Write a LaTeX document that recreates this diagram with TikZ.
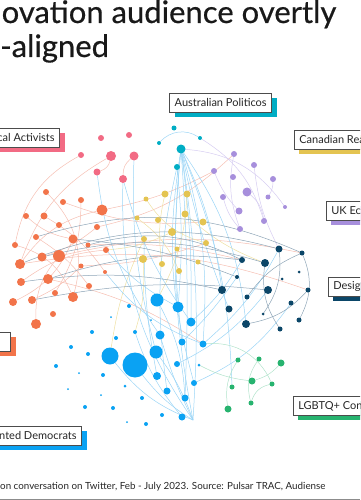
\documentclass[tikz,border=0pt]{standalone}
\usepackage{fontspec}
\setmainfont{Lato}
\newfontfamily\titlefont[FakeBold=0.5]{Lato}
\usetikzlibrary{shadows,backgrounds}

\definecolor{pinkc}{HTML}{F26B84}
\definecolor{orangec}{HTML}{F2744A}
\definecolor{yellowc}{HTML}{E4C451}
\definecolor{tealc}{HTML}{00ADC4}
\definecolor{purplec}{HTML}{A78FDC}
\definecolor{navyc}{HTML}{0B4668}
\definecolor{bluec}{HTML}{0AA2F3}
\definecolor{greenc}{HTML}{27B36F}
\definecolor{eblue}{HTML}{9BD5F6}
\definecolor{esalmon}{HTML}{F6BFB2}
\definecolor{egray}{HTML}{8EA5B7}
\definecolor{eyellow}{HTML}{EFE0A2}
\definecolor{epurple}{HTML}{D6CDF1}
\definecolor{egreen}{HTML}{B1E3CB}

\tikzset{
  dot/.style={circle,inner sep=0pt,outer sep=0pt,minimum size=#1},
  tag/.style={draw=black!70,fill=white,line width=0.7pt,inner xsep=5pt,inner ysep=0pt,
    minimum height=19pt,font=\fontsize{11}{13}\selectfont,text=black!85},
  tagshadow/.style={drop shadow={shadow xshift=5pt,shadow yshift=-5pt,fill=#1,opacity=1}},
  eb/.style={draw=eblue,line width=0.5pt},
  es/.style={draw=esalmon,line width=0.5pt},
  eg/.style={draw=egray,line width=0.5pt},
  ey/.style={draw=eyellow,line width=0.5pt},
  ep/.style={draw=epurple,line width=0.5pt},
  egr/.style={draw=egreen,line width=0.5pt}
}

\begin{document}
\begin{tikzpicture}[x=1pt,y=-1pt]
\useasboundingbox (0,0) rectangle (360,500);
\clip (0,0) rectangle (360,500);

% title
\node[anchor=base west,inner sep=0pt,font=\titlefont\fontsize{31}{36}\selectfont,text=black!90] (title1) at (1.5,23) {ovation audience overtly};
\node[anchor=base west,inner sep=0pt,font=\titlefont\fontsize{31}{36}\selectfont,text=black!90] (title2) at (0,57) {-aligned};

% clusters
\foreach \x/\y/\r [count=\i] in {101/138/3,129/135/3,81/155/3,111/156/5,134/156/4.5,97/172/3.5,123/179/4}
  \node[dot=2*\r pt,fill=pinkc] (pk\i) at (\x,\y) {};
\foreach \x/\y/\r [count=\i] in {174/128/2.5,159/143/2,200/138/2,181/149/4.5,177/167/3}
  \node[dot=2*\r pt,fill=tealc] (tl\i) at (\x,\y) {};
\foreach \x/\y/\r [count=\i] in {234/154/3,254/165/3,214/171/3,233/177/3,273/179/3,247/192/4.5,
    223/197/3,268/197/2.5,239/211/3.5,285/207/2,264/221/3,240/229/3}
  \node[dot=2*\r pt,fill=purplec] (pu\i) at (\x,\y) {};
\foreach \x/\y/\r [count=\i] in {146/199/2.5,165/194/3.5,187/194/3.5,137/218/2.5,158/220/3,185/214/3.5,
    172/232/4,203/222/3.5,144/239/3,206/243/3,177/249/2.5,143/259/4,162/264/3,179/271/3,198/262/2.5}
  \node[dot=2*\r pt,fill=yellowc] (ye\i) at (\x,\y) {};
\foreach \x/\y/\r [count=\i] in {46/192/3,63/202/3,81/200/3,102/210/5.5,26/216/3,44/216/3.5,59/225/3,
    97/227/3,36/237/3,73/239/4.5,88/245/2.5,15/245/3,106/250/3,42/257/4.5,59/256/6,20/264/5,81/266/2.5,
    105/272/2,21/282/4,48/279/5,89/286/3,55/293/3,73/297/5,32/300/4,13/302/4,53/314/3,36/324/5}
  \node[dot=2*\r pt,fill=orangec] (or\i) at (\x,\y) {};
\foreach \x/\y/\r [count=\i] in {279/249/3.5,302/253/2.5,242/260/3,265/263/4,299/272/1.5,237/277/2,
    282/279/1.5,308/290/2.5,222/290/4,268/290/4,247/297/2.5,229/309/3.5,291/303/2.5,263/314/1.5,
    299/320/2.5,246/324/4,280/329/2.5}
  \node[dot=2*\r pt,fill=navyc] (nv\i) at (\x,\y) {};
\foreach \x/\y/\r [count=\i] in {157/300/6.5,178/307/5.5,129/306/2,111/317/1,191/322/4.5,151/320/1,
    92/332/2,135/332/2,160/335/4.5,116/338/2,182/342/3.5,203/344/3.5,71/347/2,156/352/6.5,110/356/8.5,
    88/354/2,135/365/12.5,177/364/3,199/365/1.5,79/373/1,157/376/4,103/375/2,194/383/3,125/386/1.5,
    167/391/3.5,68/389/1,185/398/3.5,142/398/2,101/395/1,85/407/2,113/408/2,162/415/2,182/417/3.5,
    127/422/1,146/424/2,56/366/2}
  \node[dot=2*\r pt,fill=bluec] (bl\i) at (\x,\y) {};
\foreach \x/\y/\r [count=\i] in {238/360/2.5,259/359/2.5,281/363/3.5,252/381/3.5,232/387/2.5,
    272/384/2.5,251/403/2.5,228/409/3.5}
  \node[dot=2*\r pt,fill=greenc] (gr\i) at (\x,\y) {};
\coordinate (bv) at (193,420);

% edges
\begin{scope}[on background layer]
\foreach \a/\b/\c in {or16/or4/20,or5/or10/-15,or12/or23/25,or14/or8/-10,or19/or13/15,or25/or10/-20,
    or9/or21/10,or24/or17/-10,or27/or15/20,or22/or3/-15,or6/or18/12,or1/or23/30,pk4/or16/-20,
    pk3/or12/-25,pk4/pk6/30,pk5/pk7/-25,or15/nv2/12,or4/pu3/-8,or8/pu1/-15,or16/nv8/14,
    or20/bl12/10,or17/ye10/-8,or11/nv3/8,or2/ye8/-12}
  \draw[es] (\a) to[bend left=\c] (\b);
\foreach \a/\b/\c in {ye2/ye13/-10,ye4/ye14/15,ye1/ye10/-20,ye12/bl8/10,ye9/bl15/-8,ye3/bl1/12,
    ye7/or13/10,ye6/nv4/-10}
  \draw[ey] (\a) to[bend left=\c] (\b);
\foreach \a/\b/\c in {tl4/pu10/25,tl3/pu11/20,pu1/pu12/-15,pu6/pu11/20,pu3/pu9/-10,pu5/pu8/15,
    pu7/pu12/-12,pu2/nv1/-10}
  \draw[ep] (\a) to[bend left=\c] (\b);
\foreach \a/\b/\c in {tl4/bv/-8,tl4/bv/6,tl4/bl5/4,tl4/bl11/-6,tl4/bl12/10,tl4/bl23/-12,tl4/bl27/3,
    tl4/nv9/8,tl4/nv12/-5,tl4/nv16/14,tl4/gr5/10,tl5/bl2/5,tl5/bl25/-10,pk7/bl5/-10,pk6/bl9/-14,
    pk7/bv/-18,pk5/bl14/-8,tl2/tl3/40,bl17/bv/-10,bl14/bv/8,bl15/bv/-15,bl9/bv/-5,bl8/bl33/-10,
    bl1/bl27/12,bl12/nv1/-10,bl5/nv3/-8,bl18/nv10/-12,bl11/nv6/-5,bl23/nv13/-15,ye9/bl21/-5,
    or13/bl2/-10,or18/bl12/-15}
  \draw[eb] (\a) to[bend left=\c] (\b);
\foreach \a/\b/\c in {or16/nv1/18,or20/nv3/12,or14/nv4/15,or19/nv9/10,or9/nv2/20,or10/nv6/8,
    or24/nv10/8,nv1/nv14/20,nv2/nv11/-15,nv8/nv16/18,nv4/nv17/-20,nv2/nv15/25,or11/nv3/20}
  \draw[eg] (\a) to[bend left=\c] (\b);
\foreach \a/\b/\c in {bl12/gr6/35,gr2/gr7/-25,gr4/gr3/-15,gr1/gr8/-20,gr7/gr6/30,bl19/gr4/-10}
  \draw[egr] (\a) to[bend left=\c] (\b);
\end{scope}

% labels
\node[tag,tagshadow=pinkc,anchor=north east] (radical) at (60,128) {cal Activists};
\node[tag,tagshadow=tealc,anchor=north east] (auspol) at (272,93) {Australian Politicos};
\node[tag,tagshadow=yellowc,anchor=north west] (canada) at (294,130) {Canadian Rea\hspace{20pt}};
\node[tag,tagshadow=purplec,anchor=north west] (ukeco) at (326,201) {UK Eco\hspace{20pt}};
\node[tag,tagshadow=navyc,anchor=north west] (design) at (328,277) {Design\hspace{20pt}};
\node[tag,tagshadow=greenc,anchor=north west] (lgbtq) at (293,396) {LGBTQ+ Cont\hspace{20pt}};
\node[tag,tagshadow=bluec,anchor=north east] (democrats) at (82,426) {nted Democrats};
\node[tag,tagshadow=orangec,anchor=north east,minimum width=30pt] (orangetag) at (11,332) {};

% source
\node[anchor=base west,inner sep=0pt,font=\fontsize{9.8}{12}\selectfont,text=black!85] (source) at (0,489)
  {on conversation on Twitter, Feb - July 2023. Source: Pulsar TRAC, Audiense};
\draw[black!45,line width=0.8pt] (source.west |- 0,499) -- (360,499);
\end{tikzpicture}
\end{document}
